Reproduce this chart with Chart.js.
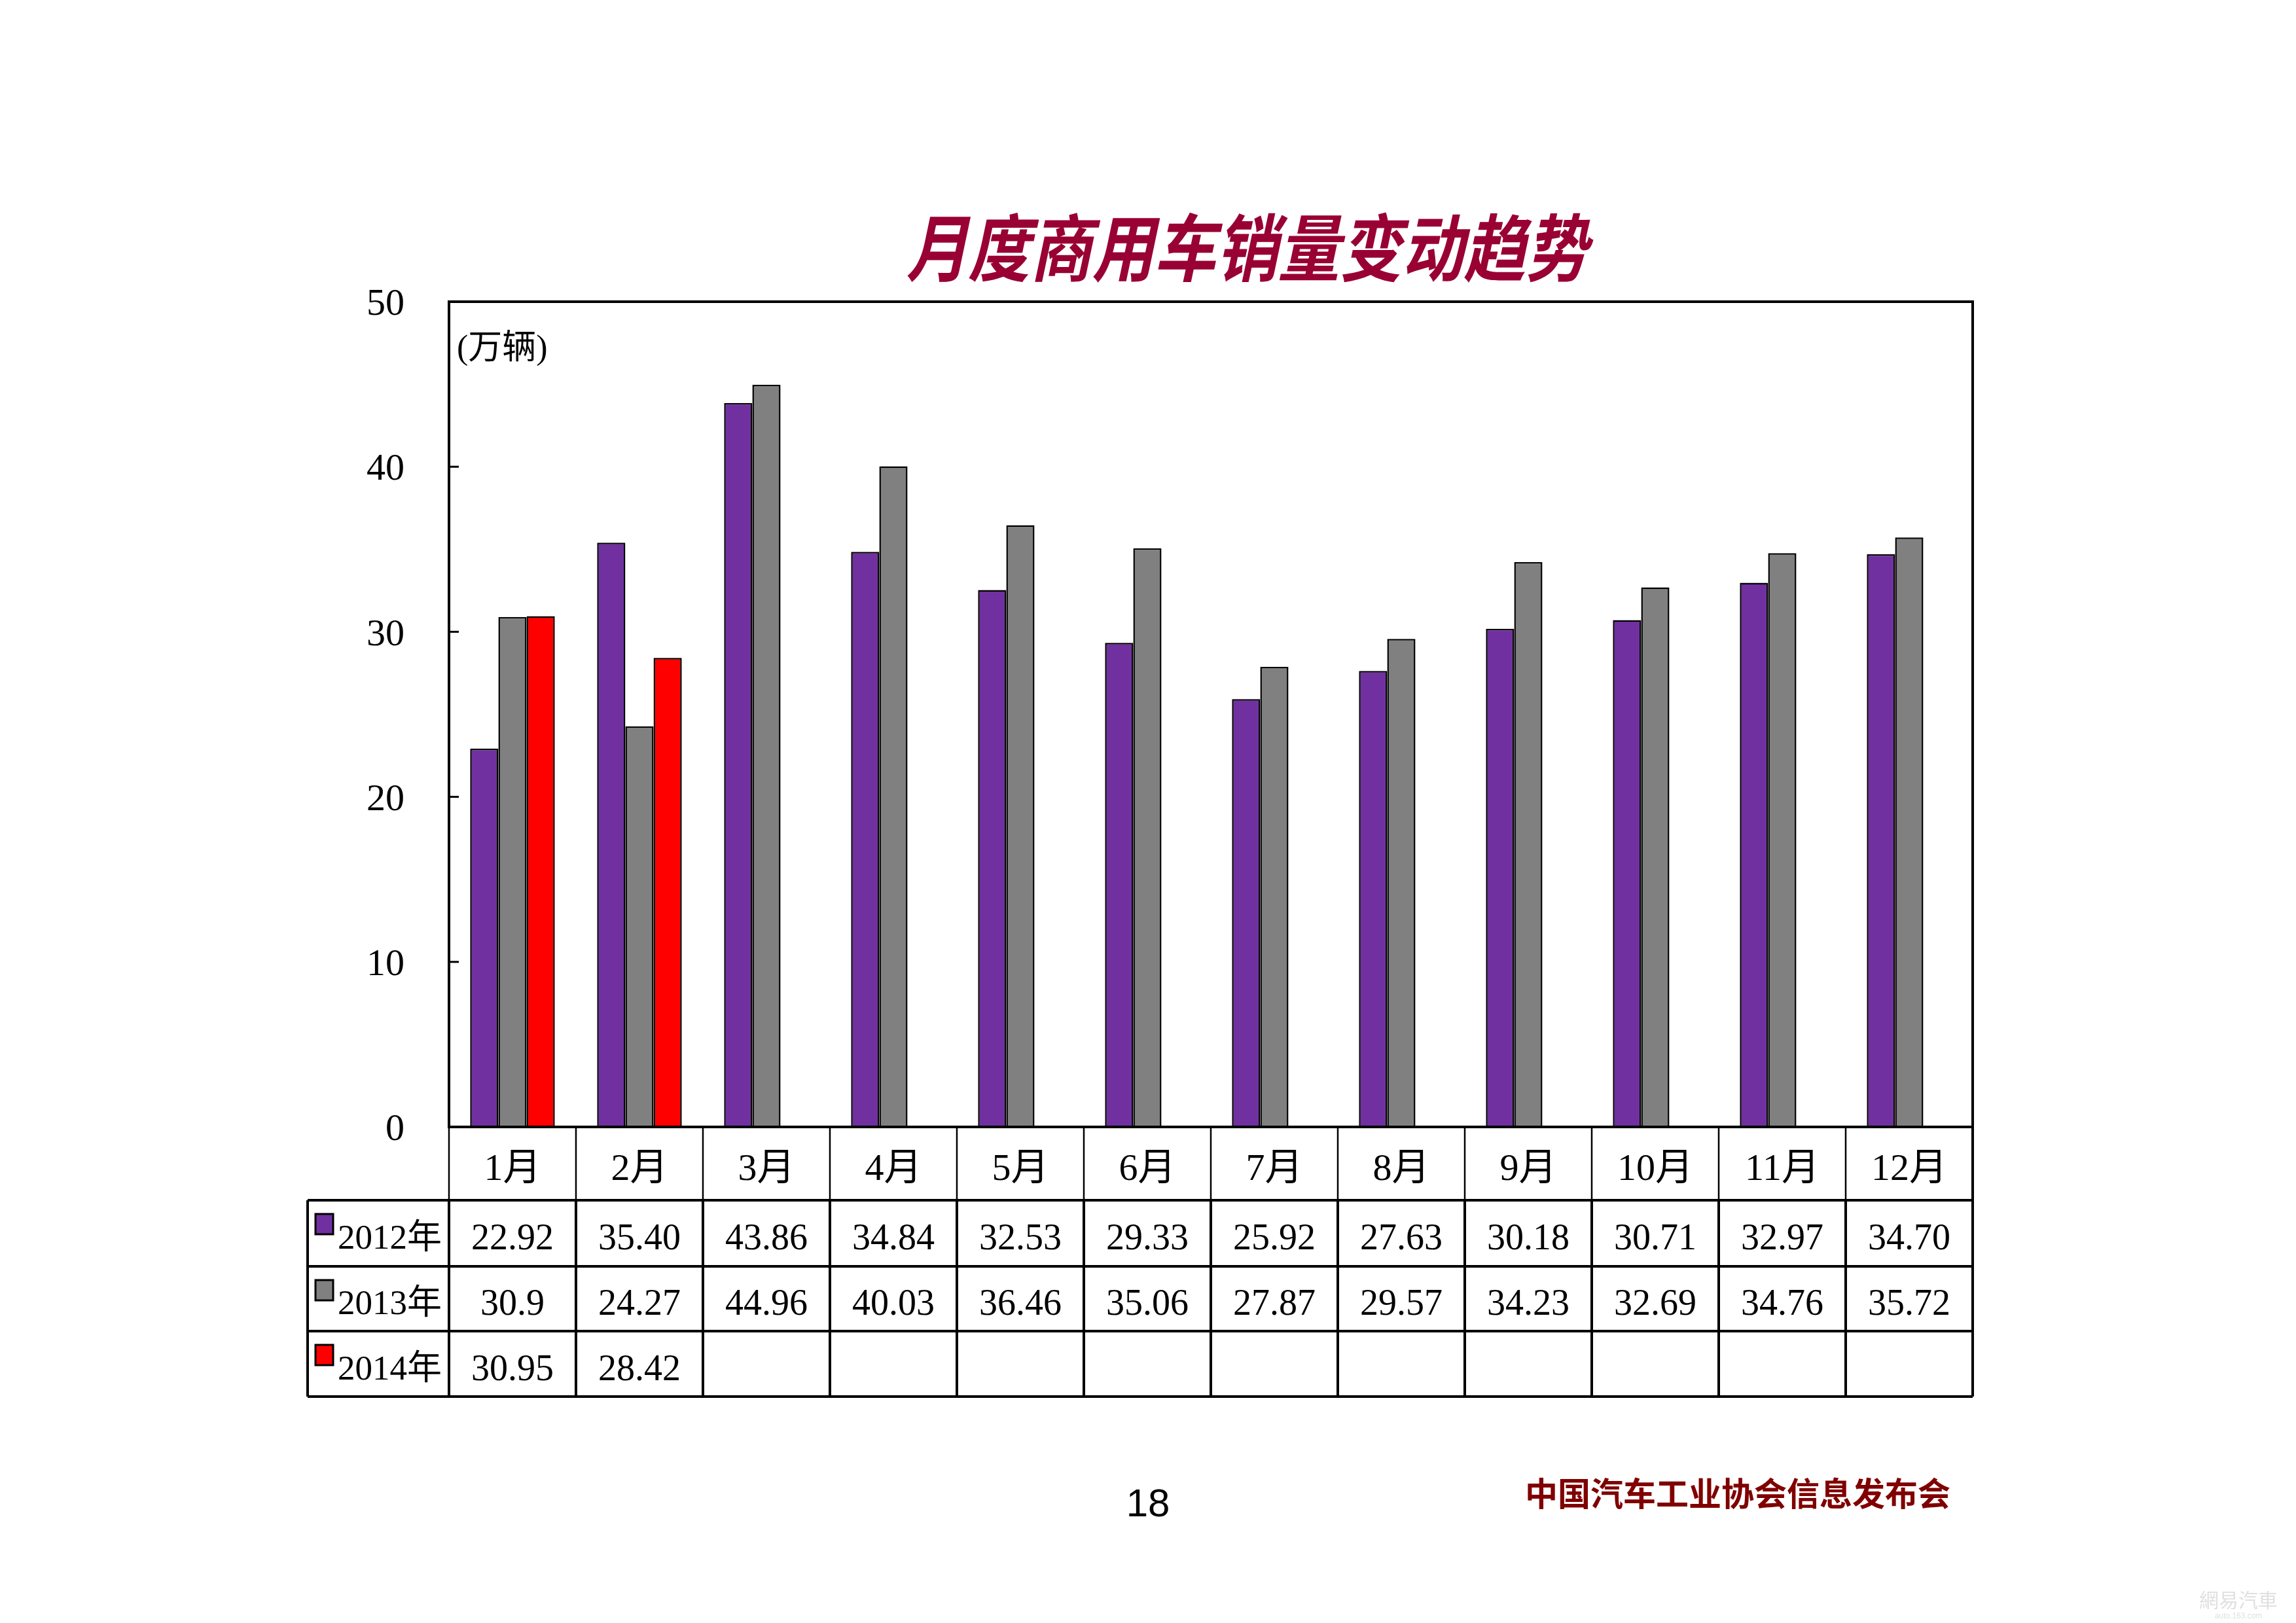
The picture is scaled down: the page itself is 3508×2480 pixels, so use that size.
<!DOCTYPE html>
<html>
<head>
<meta charset="utf-8">
<script src="https://cdn.jsdelivr.net/npm/chart.js@4.4.1/dist/chart.umd.min.js"></script>
<style>
  html, body { margin: 0; padding: 0; background: #fff; }
  canvas { display: block; }
</style>
</head>
<body>
<canvas id="myChart" width="3508" height="2480"></canvas>
<script>
const months = ['1月', '2月', '3月', '4月', '5月', '6月', '7月', '8月', '9月', '10月', '11月', '12月'];
const seriesNames = ['2012年', '2013年', '2014年'];
const seriesColors = ['#7030a0', '#808080', '#ff0000'];
// values as printed in the table under the chart
const text2012 = ['22.92', '35.40', '43.86', '34.84', '32.53', '29.33', '25.92', '27.63', '30.18', '30.71', '32.97', '34.70'];
const text2013 = ['30.9', '24.27', '44.96', '40.03', '36.46', '35.06', '27.87', '29.57', '34.23', '32.69', '34.76', '35.72'];
const text2014 = ['30.95', '28.42'];
const yTicks = [0, 10, 20, 30, 40, 50];

const title = '月度商用车销量变动趋势';
const unitLabel = '(万辆)';
const pageNo = '18';
const footer = '中国汽车工业协会信息发布会';

const allText = [text2012, text2013, text2014];
const toValues = (arr) => months.map((m, i) => arr[i] === undefined ? null : Number(arr[i]));

const serif = "'Liberation Serif', 'Noto Sans CJK SC', serif";
const ctx = document.getElementById('myChart');

const tablePlugin = {
  id: 'tablePlugin',
  afterDraw(chart) {
    const c = chart.ctx;
    const area = chart.chartArea;
    const xs = chart.scales.x;
    const ys = chart.scales.y;
    const colW = (area.right - area.left) / months.length;
    const tableLeft = 470;
    const monthRowBottom = area.bottom + 112;
    const rowTops = [monthRowBottom, monthRowBottom + 101, monthRowBottom + 200];
    const tableBottom = monthRowBottom + 300;

    c.save();
    c.strokeStyle = '#000';
    c.fillStyle = '#000';

    // inner tick marks on the y axis
    c.lineWidth = 3;
    for (const v of yTicks) {
      const y = ys.getPixelForValue(v);
      c.beginPath();
      c.moveTo(area.left, y);
      c.lineTo(area.left + 15, y);
      c.stroke();
    }

    // plot frame
    c.lineWidth = 4;
    c.strokeRect(area.left, area.top, area.right - area.left, area.bottom - area.top);

    // month row verticals
    c.lineWidth = 2.5;
    for (let i = 0; i < months.length; i++) {
      const x = area.left + i * colW;
      c.beginPath();
      c.moveTo(x, area.bottom);
      c.lineTo(x, monthRowBottom);
      c.stroke();
    }
    c.lineWidth = 4;
    c.beginPath();
    c.moveTo(area.right, area.bottom);
    c.lineTo(area.right, monthRowBottom);
    c.stroke();

    // data rows grid
    c.lineWidth = 4;
    for (const y of [monthRowBottom, rowTops[1], rowTops[2], tableBottom]) {
      c.beginPath();
      c.moveTo(tableLeft, y);
      c.lineTo(area.right, y);
      c.stroke();
    }
    const vx = [tableLeft];
    for (let i = 0; i <= months.length; i++) vx.push(area.left + i * colW);
    for (const x of vx) {
      c.beginPath();
      c.moveTo(x, monthRowBottom);
      c.lineTo(x, tableBottom);
      c.stroke();
    }

    // month labels
    c.textAlign = 'center';
    c.textBaseline = 'middle';
    c.font = '58px ' + serif;
    months.forEach((m, i) => {
      c.fillText(m, xs.getPixelForValue(i), area.bottom + 66);
    });

    // values + legend cells
    allText.forEach((arr, r) => {
      const top = rowTops[r];
      const rowH = (r < 2 ? rowTops[r + 1] : tableBottom) - top;
      const cy = top + rowH / 2 + 10;
      c.font = '56px ' + serif;
      c.textAlign = 'center';
      arr.forEach((t, i) => {
        c.fillText(t, xs.getPixelForValue(i), cy);
      });
      // legend key
      c.fillStyle = seriesColors[r];
      c.fillRect(482, top + 21, 27, 31);
      c.lineWidth = 3;
      c.strokeRect(482, top + 21, 27, 31);
      c.fillStyle = '#000';
      c.textAlign = 'left';
      c.font = '53px ' + serif;
      c.fillText(seriesNames[r], 516, cy);
    });

    // unit label
    c.textAlign = 'left';
    c.font = '52px ' + serif;
    c.fillText(unitLabel, 698, 534);

    // title
    c.save();
    c.fillStyle = '#990033';
    c.font = 'italic bold 112px "Noto Sans CJK SC"';
    c.translate(1905, 378);
    c.scale(0.845, 1);
    c.textAlign = 'center';
    c.fillText(title, 0, 0);
    c.restore();

    // footer
    c.textAlign = 'center';
    c.font = '60px "Liberation Sans"';
    c.fillText(pageNo, 1754, 2300);
    c.fillStyle = '#800000';
    c.font = 'bold 50px "Noto Sans CJK SC"';
    c.fillText(footer, 2655, 2282);

    // faint source mark
    c.fillStyle = '#e0e0e0';
    c.font = '30px "Noto Sans CJK TC"';
    c.fillText('網易汽車', 3420, 2445);
    c.font = '12px "Liberation Sans"';
    c.fillText('auto.163.com', 3420, 2470);

    c.restore();
  }
};

new Chart(ctx, {
  type: 'bar',
  data: {
    labels: months,
    datasets: allText.map((arr, i) => ({
      label: seriesNames[i],
      data: toValues(arr),
      backgroundColor: seriesColors[i],
      borderColor: '#000',
      borderWidth: 2.5,
      categoryPercentage: 0.667,
      barPercentage: 1.0
    }))
  },
  options: {
    responsive: false,
    animation: false,
    layout: {
      padding: { left: 0, top: 461, right: 3508 - 3014, bottom: 2480 - 1722 }
    },
    plugins: {
      legend: { display: false },
      tooltip: { enabled: false }
    },
    scales: {
      x: { display: false },
      y: {
        min: 0,
        max: 50,
        afterBuildTicks: (s) => { s.ticks = yTicks.map(v => ({ value: v })); },
        afterFit: (s) => { s.width = 686; },
        grid: { display: false, drawTicks: false },
        border: { display: false },
        ticks: {
          padding: 68,
          labelOffset: 5,
          color: '#000',
          font: { family: serif, size: 58 }
        }
      }
    }
  },
  plugins: [tablePlugin]
});
</script>
</body>
</html>
